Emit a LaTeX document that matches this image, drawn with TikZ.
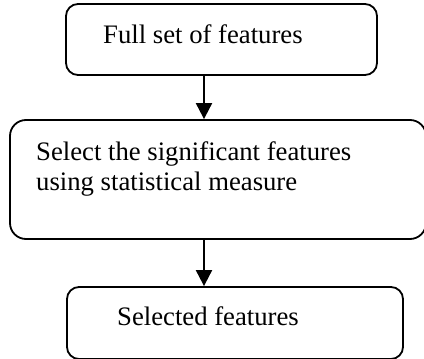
\documentclass[tikz,border=0pt]{standalone}
\usepackage{fontspec}
\setmainfont{Liberation Serif}
\usetikzlibrary{arrows.meta}
\begin{document}
\begin{tikzpicture}[x=1pt,y=-1pt,
  box/.style={draw=black,line width=1.8pt,rounded corners=12pt,inner sep=0pt},
  lbl/.style={anchor=base west,inner sep=0pt,font=\fontsize{26.7}{32}\selectfont},
  arr/.style={line width=2pt,-{Triangle[width=16pt,length=16pt]}}]
\useasboundingbox (0,0) rectangle (424,359);
\clip (0,0) rectangle (424,359);
\node[box,minimum width=311pt,minimum height=71pt] (b1) at (221.5,39.5) {};
\node[box,minimum width=416pt,minimum height=119pt,rounded corners=16pt] (b2) at (218,179.5) {};
\node[box,minimum width=336pt,minimum height=72pt] (b3) at (235,323) {};
\node[lbl] (t1) at (103,43) {Full set of features};
\node[lbl] (t2) at (36,160) {Select the significant features};
\node[lbl] (t2b) at (36,190) {using statistical measure};
\node[lbl] (t3) at (117,325) {Selected features};
\coordinate (ax) at (204,0);
\draw[arr] (b1.south -| ax) -- (b2.north -| ax);
\draw[arr] (b2.south -| ax) -- (b3.north -| ax);
\end{tikzpicture}
\end{document}
